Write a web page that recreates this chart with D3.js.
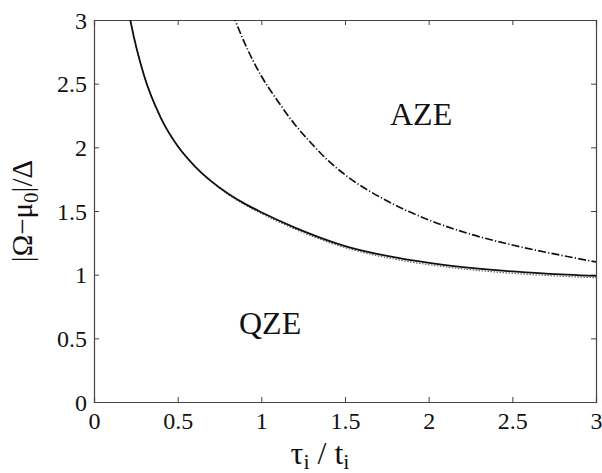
<!DOCTYPE html>
<html>
<head>
<meta charset="utf-8">
<script src="https://cdn.jsdelivr.net/npm/d3@7"></script>
<style>
html,body{margin:0;padding:0;background:#fff;}
svg{display:block;}
</style>
</head>
<body>
<svg id="chart" width="602" height="473"></svg>
<script>
// Data
const solidX  = [0.20, 0.22, 0.30, 0.40, 0.50, 0.60, 0.70, 0.80, 0.90, 1.00, 1.20, 1.50, 1.80, 2.10, 2.40, 2.70, 3.00];
const solidY  = [3.12, 2.98, 2.56, 2.23, 2.01, 1.855, 1.735, 1.638, 1.558, 1.49, 1.37, 1.225, 1.135, 1.075, 1.035, 1.008, 0.99];
const dottedX = [0.20, 0.22, 0.30, 0.40, 0.50, 0.60, 0.70, 0.80, 0.90, 1.00, 1.20, 1.50, 1.80, 2.10, 2.40, 2.70, 3.00];
const dottedY = [3.12, 2.98, 2.56, 2.23, 2.01, 1.853, 1.731, 1.632, 1.55, 1.48, 1.358, 1.212, 1.121, 1.061, 1.021, 0.994, 0.976];
const dashX   = [0.80, 0.843, 0.90, 1.00, 1.10, 1.20, 1.30, 1.40, 1.50, 1.75, 2.00, 2.25, 2.50, 2.75, 3.00];
const dashY   = [3.15, 3.00, 2.82, 2.56, 2.36, 2.18, 2.03, 1.895, 1.785, 1.58, 1.43, 1.318, 1.233, 1.163, 1.10];
const xTicks  = [0, 0.5, 1, 1.5, 2, 2.5, 3];
const yTicks  = [0, 0.5, 1, 1.5, 2, 2.5, 3];
const xTickLabels = ["0", "0.5", "1", "1.5", "2", "2.5", "3"];
const yTickLabels = ["0", "0.5", "1", "1.5", "2", "2.5", "3"];

const FONT = "'Liberation Serif', 'Times New Roman', serif";

const svg = d3.select("#chart");
const L = 94, R = 596, T = 20, B = 402;
const x = d3.scaleLinear().domain([0, 3]).range([L, R]);
const y = d3.scaleLinear().domain([0, 3]).range([B, T]);

svg.append("defs").append("clipPath").attr("id", "clip")
  .append("rect").attr("x", L).attr("y", T).attr("width", R - L).attr("height", B - T);

const frameColor = "#444";
const tickLen = 5;

const gB = svg.append("g").attr("transform", `translate(0,${B})`)
  .call(d3.axisBottom(x).tickValues(xTicks).tickSize(-tickLen).tickPadding(10)
    .tickFormat((d, i) => xTickLabels[i]));
const gT = svg.append("g").attr("transform", `translate(0,${T})`)
  .call(d3.axisTop(x).tickValues(xTicks).tickSize(-tickLen).tickFormat(""));
const gL = svg.append("g").attr("transform", `translate(${L},0)`)
  .call(d3.axisLeft(y).tickValues(yTicks).tickSize(-tickLen).tickPadding(7)
    .tickFormat((d, i) => yTickLabels[i]));
const gR = svg.append("g").attr("transform", `translate(${R},0)`)
  .call(d3.axisRight(y).tickValues(yTicks).tickSize(-tickLen).tickFormat(""));

[gB, gT, gL, gR].forEach(g => {
  g.attr("font-family", null).attr("font-size", null);
  g.select(".domain").attr("stroke", frameColor).attr("stroke-width", 1.2);
  g.selectAll(".tick line").attr("stroke", frameColor).attr("stroke-width", 1);
  g.selectAll(".tick text").style("font-family", FONT).style("font-size", "24px").attr("fill", "#111");
});
gB.selectAll(".tick text").attr("dy", "0.71em").attr("y", 10);
gL.selectAll(".tick text").attr("dy", "0.34em");

const line = d3.line().x(d => x(d[0])).y(d => y(d[1])).curve(d3.curveMonotoneX);
const plot = svg.append("g").attr("clip-path", "url(#clip)");

plot.append("path").datum(dottedX.map((v, i) => [v, dottedY[i]]))
  .attr("d", line).attr("fill", "none").attr("stroke", "#666")
  .attr("stroke-width", 1.2).attr("stroke-dasharray", "1.5,1.5");

plot.append("path").datum(solidX.map((v, i) => [v, solidY[i]]))
  .attr("d", line).attr("fill", "none").attr("stroke", "#111")
  .attr("stroke-width", 1.8);

plot.append("path").datum(dashX.map((v, i) => [v, dashY[i]]))
  .attr("d", line).attr("fill", "none").attr("stroke", "#111")
  .attr("stroke-width", 1.7).attr("stroke-dasharray", "8,2.2,1.2,2.2");

svg.append("text").attr("x", 390).attr("y", 125).style("font-family", FONT).style("font-size", "32px").attr("fill", "#111").text("AZE");
svg.append("text").attr("x", 239).attr("y", 334).style("font-family", FONT).style("font-size", "32px").attr("fill", "#111").text("QZE");

const xt = svg.append("text").attr("x", 320).attr("y", 464).attr("text-anchor", "middle")
  .style("font-family", FONT).style("font-size", "32px").attr("fill", "#111");
xt.append("tspan").text("τ");
xt.append("tspan").style("font-size", "22px").attr("dy", 5).text("i");
xt.append("tspan").attr("dy", -5).text(" / t");
xt.append("tspan").style("font-size", "22px").attr("dy", 5).text("i");

const yt = svg.append("text").attr("transform", `translate(32,${211}) rotate(-90)`)
  .attr("text-anchor", "middle").style("font-family", FONT).style("font-size", "29px").attr("fill", "#111");
yt.append("tspan").text("|Ω−μ");
yt.append("tspan").style("font-size", "21px").attr("dy", 6).text("0");
yt.append("tspan").attr("dy", -6).text("|/Δ");
</script>
</body>
</html>
